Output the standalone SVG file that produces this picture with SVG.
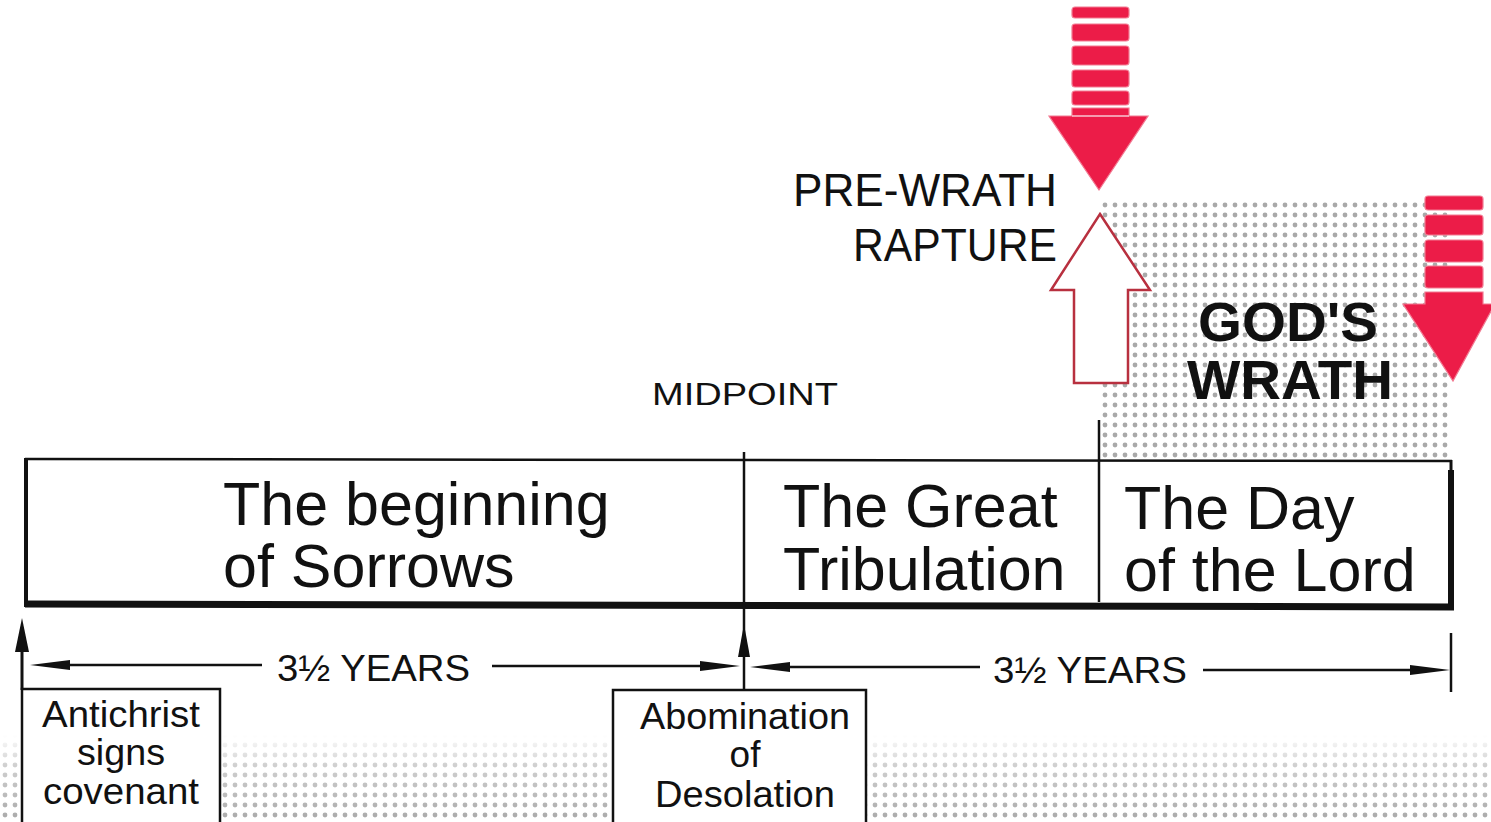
<svg xmlns="http://www.w3.org/2000/svg" width="1491" height="822" viewBox="0 0 1491 822">
<style>
.t{font-family:"Liberation Sans",Arial,sans-serif;fill:#111}
.big{font-size:61px}
.yr{font-size:37px}
.ev{font-size:37px;text-anchor:middle}
.ln{stroke:#111;fill:none}
.red{fill:#ec1c48;stroke:#f27a92;stroke-width:1.2}
.head{fill:#111}
</style>
<defs>
<pattern id="dots" width="10" height="10" patternUnits="userSpaceOnUse">
<circle cx="5" cy="5" r="2.4" fill="#a9a9a9"/>
</pattern>
<linearGradient id="fade" x1="0" y1="0" x2="0" y2="1">
<stop offset="0" stop-color="#fff" stop-opacity="0"/>
<stop offset="0.35" stop-color="#fff" stop-opacity="0.55"/>
<stop offset="1" stop-color="#fff" stop-opacity="1"/>
</linearGradient>
<mask id="fm"><rect x="0" y="735" width="1491" height="87" fill="url(#fade)"/></mask>
</defs>
<rect width="1491" height="822" fill="#fff"/>

<!-- halftone areas -->
<rect x="1102" y="198" width="350" height="262" fill="url(#dots)"/>
<rect x="0" y="735" width="1491" height="87" fill="url(#dots)" mask="url(#fm)"/>

<!-- main timeline box -->
<g id="timeline">
<rect x="27" y="460" width="1424" height="145" fill="#fff"/>
<line class="ln" x1="25" y1="459" x2="1452" y2="461" stroke-width="2.5"/>
<line class="ln" x1="25" y1="604" x2="1454" y2="607" stroke-width="7"/>
<line class="ln" x1="26" y1="458" x2="26" y2="607" stroke-width="4"/>
<line class="ln" x1="1451" y1="470" x2="1451" y2="610" stroke-width="6"/>
<line class="ln" x1="1451" y1="460" x2="1451" y2="472" stroke-width="3"/>
</g>

<g id="period-sorrows">
<text class="t big" x="223" y="525">The beginning</text>
<text class="t big" x="223" y="587">of Sorrows</text>
</g>
<g id="period-tribulation">
<text class="t big" x="783" y="527">The Great</text>
<text class="t big" x="783" y="590">Tribulation</text>
</g>
<g id="period-day">
<text class="t big" x="1124" y="529">The Day</text>
<text class="t big" x="1124" y="591">of the Lord</text>
</g>

<g id="midpoint-label">
<text class="t" x="652" y="405" font-size="32" textLength="186" lengthAdjust="spacingAndGlyphs">MIDPOINT</text>
</g>

<g id="event-covenant">
<rect x="22" y="689" width="198" height="140" fill="#fff" stroke="#111" stroke-width="2.5"/>
<text class="t ev" x="121" y="727" textLength="158" lengthAdjust="spacingAndGlyphs">Antichrist</text>
<text class="t ev" x="121" y="765" textLength="88" lengthAdjust="spacingAndGlyphs">signs</text>
<text class="t ev" x="121" y="804" textLength="156" lengthAdjust="spacingAndGlyphs">covenant</text>
</g>
<g id="event-abomination">
<rect x="613" y="690" width="253" height="140" fill="#fff" stroke="#111" stroke-width="2.5"/>
<text class="t ev" x="745" y="729" textLength="210" lengthAdjust="spacingAndGlyphs">Abomination</text>
<text class="t ev" x="745" y="767">of</text>
<text class="t ev" x="745" y="807" textLength="180" lengthAdjust="spacingAndGlyphs">Desolation</text>
</g>

<g id="years-first">
<text class="t yr" x="277" y="681" textLength="193" lengthAdjust="spacingAndGlyphs">3½ YEARS</text>
</g>
<g id="years-second">
<text class="t yr" x="993" y="683" textLength="194" lengthAdjust="spacingAndGlyphs">3½ YEARS</text>
</g>

<g id="god-wrath-label">
<text class="t" x="1288" y="341" font-size="56" font-weight="bold" text-anchor="middle" textLength="180" lengthAdjust="spacingAndGlyphs">GOD'S</text>
<text class="t" x="1290" y="399" font-size="56" font-weight="bold" text-anchor="middle" textLength="206" lengthAdjust="spacingAndGlyphs">WRATH</text>
</g>

<g id="rapture-label">
<text class="t" x="1057" y="206" font-size="46" text-anchor="end" textLength="264" lengthAdjust="spacingAndGlyphs">PRE-WRATH</text>
<text class="t" x="1057" y="261" font-size="46" text-anchor="end" textLength="204" lengthAdjust="spacingAndGlyphs">RAPTURE</text>
</g>

<g id="wrath-arrow-top">
<rect class="red" x="1072" y="7" width="57" height="11" rx="3"/>
<rect class="red" x="1072" y="24" width="57" height="17" rx="3"/>
<rect class="red" x="1072" y="46" width="57" height="19" rx="3"/>
<rect class="red" x="1072" y="70" width="57" height="17" rx="3"/>
<rect class="red" x="1072" y="91" width="57" height="14" rx="3"/>
<path class="red" d="M1072,108 H1129 V116 H1148 L1099,190 L1049,116 H1072 Z"/>
<line x1="1072" y1="116" x2="1129" y2="116" stroke="#f9c6d2" stroke-width="1.5"/>
</g>

<g id="wrath-arrow-right">
<rect class="red" x="1425" y="196" width="58" height="14" rx="3"/>
<rect class="red" x="1425" y="215" width="58" height="20" rx="3"/>
<rect class="red" x="1425" y="240" width="58" height="22" rx="3"/>
<rect class="red" x="1425" y="266" width="58" height="22" rx="3"/>
<path class="red" d="M1425,292 H1483 V304 H1495 L1453,381 L1403,304 H1425 Z"/>
</g>

<g id="rapture-arrow">
<path d="M1100,214 L1150,290 H1128 V383 H1074 V290 H1051 Z" fill="#fff" stroke="#b8303f" stroke-width="2.5" stroke-linejoin="miter"/>
</g>

<g id="connectors">
<line class="ln" x1="744" y1="452" x2="744" y2="690" stroke-width="2.5"/>
<path class="head" d="M744,624 L750,657 L738,657 Z"/>
<line class="ln" x1="1099" y1="420" x2="1099" y2="602" stroke-width="2.5"/>
<line class="ln" x1="22" y1="640" x2="22" y2="690" stroke-width="3"/>
<path class="head" d="M22,618 L29,652 L15,652 Z"/>
<line class="ln" x1="262" y1="665" x2="60" y2="665" stroke-width="2.5"/>
<path class="head" d="M30,665 L70,660 L70,670 Z"/>
<line class="ln" x1="492" y1="666" x2="710" y2="666" stroke-width="2.5"/>
<path class="head" d="M740,666 L700,661 L700,671 Z"/>
<line class="ln" x1="980" y1="667" x2="780" y2="667" stroke-width="2.5"/>
<path class="head" d="M750,667 L790,662 L790,672 Z"/>
<line class="ln" x1="1203" y1="670" x2="1420" y2="670" stroke-width="2.5"/>
<path class="head" d="M1450,670 L1410,665 L1410,675 Z"/>
<line class="ln" x1="1451" y1="633" x2="1451" y2="692" stroke-width="2.5"/>
</g>
</svg>
